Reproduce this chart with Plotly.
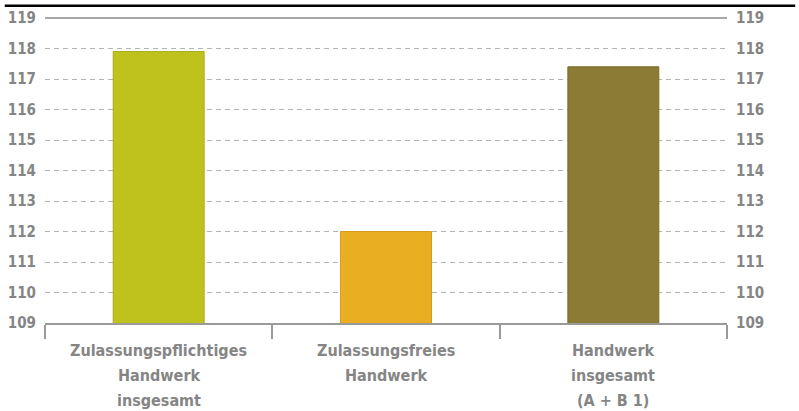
import plotly.graph_objects as go

categories = ["Zulassungspflichtiges Handwerk insgesamt",
              "Zulassungsfreies Handwerk",
              "Handwerk insgesamt (A + B 1)"]
label_lines = [
    ["Zulassungspflichtiges", "Handwerk", "insgesamt"],
    ["Zulassungsfreies", "Handwerk"],
    ["Handwerk", "insgesamt", "(A + B 1)"],
]
values = [117.9, 112.0, 117.4]
bar_colors = ["#bfc21d", "#e9ae22", "#8b7b34"]
border_colors = ["#a9ac1a", "#d49c1c", "#7a6b2c"]
y_ticks = list(range(109, 120))

grey = "#858585"
tick_font = dict(family="DejaVu Sans Condensed", size=15, color=grey, weight="bold")

fig = go.Figure()
fig.add_trace(go.Bar(
    x=categories,
    y=values,
    marker=dict(color=bar_colors, line=dict(color=border_colors, width=1)),
    width=0.4,
    hoverinfo="skip",
))
# invisible trace so the right-hand axis is drawn
fig.add_trace(go.Scatter(x=categories, y=values, yaxis="y2", mode="markers",
                         marker=dict(opacity=0), hoverinfo="skip"))

fig.update_layout(
    width=799, height=411,
    margin=dict(l=45, r=72, t=18, b=88),
    paper_bgcolor="white", plot_bgcolor="white",
    showlegend=False,
    xaxis=dict(
        showline=True, linecolor="#9a9a9a", linewidth=2,
        ticks="outside", tickson="boundaries", ticklen=14, tickwidth=2,
        tickcolor="#9a9a9a", showgrid=False, showticklabels=False,
        automargin=False,
    ),
    yaxis=dict(
        range=[109, 119], tickvals=y_ticks, showline=False, zeroline=False,
        showgrid=True, gridcolor="#b4b4b4", gridwidth=1, griddash="5px,4px",
        ticklabelstandoff=8, tickfont=tick_font, automargin=False,
    ),
    yaxis2=dict(
        range=[109, 119], tickvals=y_ticks, overlaying="y", side="right",
        showgrid=False, zeroline=False, showline=False, ticklabelstandoff=8,
        tickfont=tick_font, automargin=False,
    ),
)

# category labels, one line per annotation for the wider line spacing
for cat, lines in zip(categories, label_lines):
    for i, line in enumerate(lines):
        fig.add_annotation(x=cat, y=0, xref="x", yref="paper", text=line,
                           showarrow=False, yanchor="middle", yshift=-27 - 25 * i,
                           font=dict(family="DejaVu Sans Condensed", size=16,
                                     color=grey, weight="bold"))

# solid top gridline at 119 and black rule above the chart
fig.add_shape(type="line", xref="x domain", yref="y domain", x0=0, x1=1, y0=1, y1=1,
              line=dict(color="#a8a8a8", width=2))
fig.add_shape(type="line", xref="paper", yref="paper", x0=-0.059, x1=1.1, y0=1.04, y1=1.04,
              line=dict(color="black", width=2.5))

# drop the default page margin so the figure sits at the window's corner
fig.write_html("out.html", config={"displayModeBar": False},
               post_script="document.body.style.margin='0';")
